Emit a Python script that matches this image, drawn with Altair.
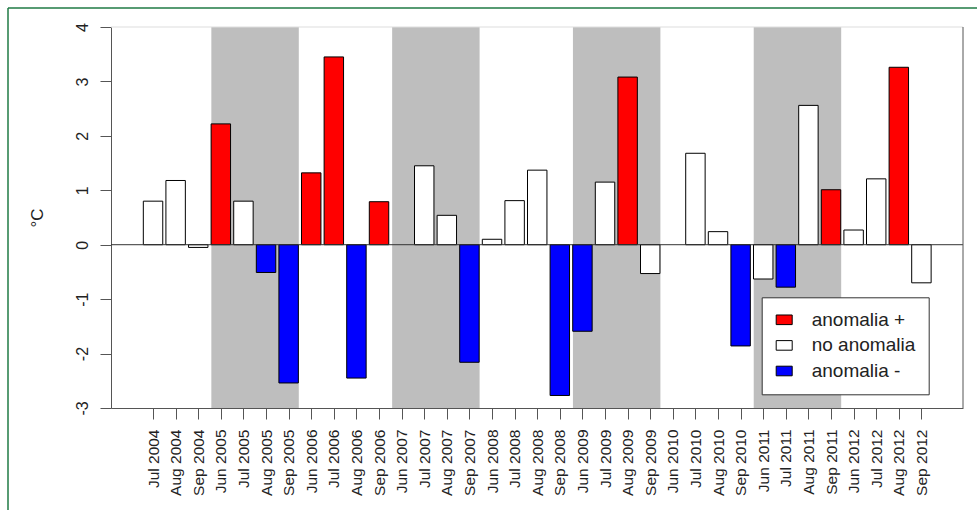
import altair as alt
import pandas as pd

# ---------------- data ----------------
labels = ["", "Jul 2004", "Aug 2004", "Sep 2004",
          "Jun 2005", "Jul 2005", "Aug 2005", "Sep 2005",
          "Jun 2006", "Jul 2006", "Aug 2006", "Sep 2006",
          "Jun 2007", "Jul 2007", "Aug 2007", "Sep 2007",
          "Jun 2008", "Jul 2008", "Aug 2008", "Sep 2008",
          "Jun 2009", "Jul 2009", "Aug 2009", "Sep 2009",
          "Jun 2010", "Jul 2010", "Aug 2010", "Sep 2010",
          "Jun 2011", "Jul 2011", "Aug 2011", "Sep 2011",
          "Jun 2012", "Jul 2012", "Aug 2012", "Sep 2012"]

values = [None, 0.80, 1.18, -0.05,
          2.22, 0.80, -0.51, -2.54,
          1.32, 3.45, -2.45, 0.79,
          None, 1.45, 0.54, -2.16,
          0.10, 0.81, 1.37, -2.77,
          -1.59, 1.15, 3.08, -0.53,
          None, 1.68, 0.24, -1.86,
          -0.63, -0.78, 2.56, 1.01,
          0.27, 1.21, 3.26, -0.70]

P, N, M = "anomalia +", "no anomalia", "anomalia -"
groups = [None, N, N, N,
          P, N, M, M,
          P, P, M, P,
          None, N, N, M,
          N, N, N, M,
          M, N, P, N,
          None, N, N, M,
          N, M, N, P,
          N, N, P, N]

legend_order = [P, N, M]
legend_colors = ["#ff0000", "#ffffff", "#0000ff"]

band_start = [4, 12, 20, 28]   # Jun 2005, Jun 2007, Jun 2009, Jun 2011
band_end = [7, 15, 23, 31]     # Sep 2005, Sep 2007, Sep 2009, Sep 2011

y_ticks = [-3, -2, -1, 0, 1, 2, 3, 4]

# ---------------- tables ----------------
df = pd.DataFrame({"idx": list(range(len(labels))), "label": labels,
                   "value": values, "group": groups}).dropna(subset=["value"])
bands = pd.DataFrame({"start": band_start, "end": band_end})
one = pd.DataFrame({"z": [0]})

W, H = 852, 381
FONT = "Liberation Sans"

xscale = alt.Scale(domain=[-0.86, 36.84], nice=False, zero=False)
yscale = alt.Scale(domain=[-3, 4], nice=False, zero=False)

label_js = "[" + ",".join("'" + l + "'" for l in labels) + "]"

xaxis = alt.Axis(values=list(range(1, len(labels))), labelExpr=label_js + "[datum.value]",
                 labelAngle=270, labelAlign="right", labelBaseline="middle",
                 labelPadding=10, tickSize=11, labelFontSize=15.5, labelFont=FONT,
                 labelColor="#222", tickColor="#555", domainColor="#555",
                 grid=False, title=None, labelOverlap=False)
yaxis = alt.Axis(values=y_ticks, labelExpr="'' + datum.value",
                 labelAngle=270, labelAlign="center",
                 labelBaseline="alphabetic", labelPadding=13, tickSize=11,
                 labelFontSize=16, labelFont=FONT, labelColor="#222",
                 tickColor="#555", domainColor="#555", grid=False,
                 title="°C", titleAngle=270, titleX=-74, titleY=H / 2,
                 titleAlign="center", titleBaseline="middle", titleFontSize=17,
                 titleFont=FONT, titleFontWeight="normal", titleColor="#222")

band_layer = alt.Chart(bands).transform_calculate(
    x0="datum.start - 0.42", x1="datum.end + 0.45", lo="-3", hi="4"
).mark_rect(color="#bebebe").encode(
    x=alt.X("x0:Q", scale=xscale, axis=xaxis),
    x2="x1:Q",
    y=alt.Y("lo:Q", scale=yscale, axis=yaxis),
    y2="hi:Q",
)

bar_layer = alt.Chart(df).transform_calculate(
    b0="datum.idx - 0.43", b1="datum.idx + 0.43", base="0"
).mark_rect(stroke="black", strokeWidth=1).encode(
    x=alt.X("b0:Q", scale=xscale, axis=xaxis),
    x2="b1:Q",
    y=alt.Y("value:Q", scale=yscale, axis=yaxis),
    y2="base:Q",
    color=alt.Color("group:N",
                    scale=alt.Scale(domain=legend_order, range=legend_colors),
                    legend=alt.Legend(orient="none", legendX=650.7, legendY=270.3,
                                      title=None, fillColor="white",
                                      strokeColor="#333", padding=13,
                                      symbolType="M-1,-0.6H1V0.6H-1Z",
                                      symbolSize=256, symbolStrokeColor="black",
                                      symbolStrokeWidth=1, labelFontSize=19,
                                      labelFont=FONT, labelColor="#222",
                                      labelOffset=18, rowPadding=5.6,
                                      labelLimit=300)),
)

zero_rule = alt.Chart(one).mark_rule(color="#333", strokeWidth=1).encode(
    y=alt.Y("z:Q", scale=yscale, axis=yaxis)
)

right_border = alt.Chart(one).mark_rule(color="#555", strokeWidth=1).encode(
    x=alt.value(W), y=alt.value(0), y2=alt.value(H)
)
top_border = alt.Chart(one).mark_rule(color="#dddddd", strokeWidth=1).encode(
    x=alt.value(0), x2=alt.value(W), y=alt.value(0)
)
frame_top = alt.Chart(one).mark_rule(color="#1f7a45", strokeWidth=1.5).encode(
    x=alt.value(-103), x2=alt.value(866), y=alt.value(-19)
)
frame_left = alt.Chart(one).mark_rule(color="#1f7a45", strokeWidth=1.5).encode(
    x=alt.value(-103), y=alt.value(-19), y2=alt.value(483)
)

chart = alt.layer(
    band_layer, top_border, bar_layer, zero_rule, right_border, frame_top, frame_left
).properties(
    width=W, height=H,
    autosize=alt.AutoSizeParams(type="none"),
    padding={"left": 111, "top": 27, "right": 14, "bottom": 102},
    background="white",
).configure_view(stroke=None)

chart.save("out.html", embed_options={"renderer": "svg", "actions": False})
